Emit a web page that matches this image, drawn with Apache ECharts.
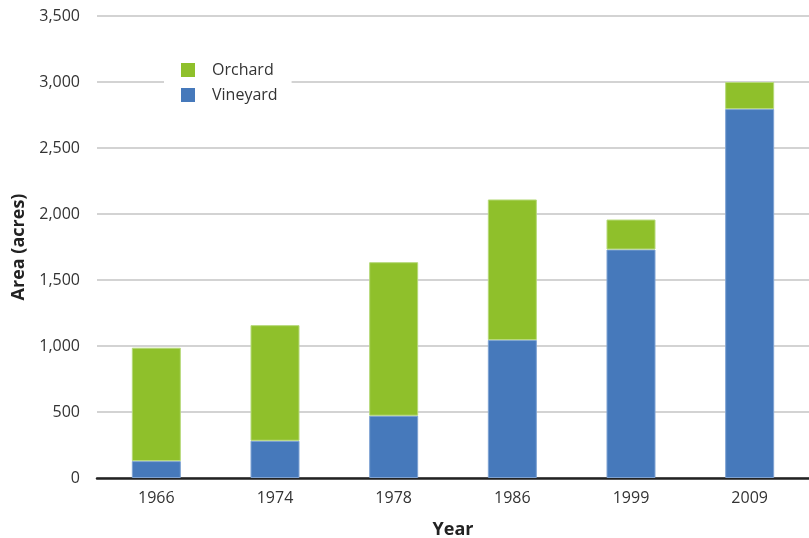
<!DOCTYPE html>
<html lang="en">
<head>
    <meta charset="UTF-8">
    <title>Orchard and vineyard area</title>
    <script src="https://cdn.jsdelivr.net/npm/echarts@6.0.0/dist/echarts.min.js"></script>
    <style>
        html, body {
            margin: 0;
            border: 0;
            background: #fff;
        }

        #chart {
            width: 809px;
            height: 538px;
        }
    </style>
</head>
<body>
<div id="chart"></div>
<script type="text/javascript">
    const years = ['1966', '1974', '1978', '1986', '1999', '2009'];
    const vineyard = [128, 282, 472, 1045, 1731, 2795];
    const orchard = [859, 876, 1163, 1065, 227, 205];

    const FONT = '"Open Sans", "Noto Sans", sans-serif';

    window.onload = () => {
        const chart = echarts.init(document.querySelector('#chart'));
        const barStyle = (color, edge) => ({
            color: color,
            borderColor: edge,
            borderWidth: 1
        });
        const option = {
            animation: false,
            textStyle: {fontFamily: FONT},
            grid: {left: 97, right: 0, top: 16, bottom: 60, outerBoundsMode: 'none'},
            legend: {
                left: 164,
                top: 58,
                orient: 'vertical',
                backgroundColor: '#fff',
                padding: [4, 14, 4, 17],
                itemWidth: 14,
                itemHeight: 14,
                itemGap: 9,
                icon: 'rect',
                itemStyle: {borderWidth: 0},
                textStyle: {fontSize: 16, color: '#333', fontFamily: FONT, padding: [0, 0, 0, 12]},
                data: ['Orchard', 'Vineyard']
            },
            xAxis: {
                type: 'category',
                data: years,
                name: 'Year',
                nameLocation: 'middle',
                nameGap: 43,
                nameTextStyle: {fontSize: 18, fontWeight: 'bold', color: '#222', fontFamily: FONT},
                axisLine: {lineStyle: {color: '#222', width: 2.5}},
                axisTick: {show: false},
                axisLabel: {fontSize: 16, color: '#333', margin: 12, fontFamily: FONT}
            },
            yAxis: {
                type: 'value',
                min: 0,
                max: 3500,
                interval: 500,
                name: 'Area (acres)',
                nameLocation: 'middle',
                nameGap: 68,
                nameTextStyle: {fontSize: 18, fontWeight: 'bold', color: '#222', fontFamily: FONT},
                axisLine: {show: false},
                axisTick: {show: false},
                axisLabel: {
                    fontSize: 16,
                    color: '#333',
                    margin: 17,
                    fontFamily: FONT,
                    formatter: (v) => v.toLocaleString('en-US')
                },
                splitLine: {lineStyle: {color: '#c4c4c4', width: 1.5}}
            },
            series: [
                {
                    name: 'Vineyard',
                    type: 'bar',
                    stack: 'area',
                    barWidth: 49,
                    data: vineyard,
                    itemStyle: barStyle('#4679bb', '#7fa3d3')
                },
                {
                    name: 'Orchard',
                    type: 'bar',
                    stack: 'area',
                    barWidth: 49,
                    data: orchard,
                    itemStyle: barStyle('#8fc02b', '#b6d97a')
                }
            ]
        };
        chart.setOption(option, true);
    };
</script>
</body>
</html>
